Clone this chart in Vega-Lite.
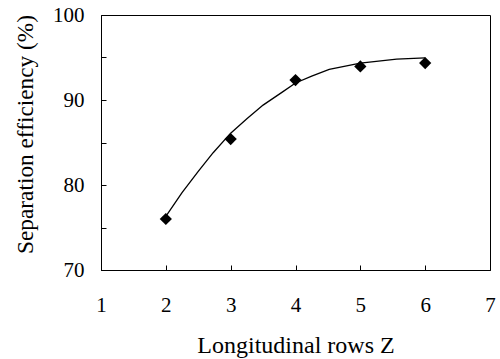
{
  "$schema": "https://vega.github.io/schema/vega-lite/v6.json",
  "autosize": "none",
  "width": 389,
  "height": 255,
  "padding": {"left": 101, "top": 15, "right": 10, "bottom": 89},
  "background": "white",
  "config": {
    "view": {"stroke": "black", "strokeWidth": 1},
    "font": "Liberation Serif, Times New Roman, serif",
    "axis": {
      "grid": false,
      "domainColor": "black",
      "tickColor": "black",
      "labelColor": "black",
      "titleColor": "black",
      "labelFont": "Liberation Serif, Times New Roman, serif",
      "titleFont": "Liberation Serif, Times New Roman, serif",
      "labelFontSize": 21,
      "titleFontSize": 24,
      "titleFontWeight": "normal"
    }
  },
  "datasets": {
    "points": [
      {"z": 2, "eff": 76.0},
      {"z": 3, "eff": 85.4},
      {"z": 4, "eff": 92.35},
      {"z": 5, "eff": 93.95},
      {"z": 6, "eff": 94.35}
    ],
    "curve": [
      {"z": 2.0, "eff": 76.3},
      {"z": 2.25, "eff": 79.1},
      {"z": 2.5, "eff": 81.6},
      {"z": 2.73, "eff": 83.8},
      {"z": 3.0, "eff": 86.1},
      {"z": 3.25, "eff": 87.8},
      {"z": 3.5, "eff": 89.4},
      {"z": 3.79, "eff": 90.9},
      {"z": 4.0, "eff": 92.0},
      {"z": 4.25, "eff": 92.8},
      {"z": 4.52, "eff": 93.6},
      {"z": 5.0, "eff": 94.35},
      {"z": 5.56, "eff": 94.8},
      {"z": 6.0, "eff": 94.95}
    ]
  },
  "layer": [
    {
      "data": {"name": "curve"},
      "mark": {"type": "line", "color": "black", "strokeWidth": 1.3},
      "encoding": {
        "x": {
          "field": "z", "type": "quantitative",
          "scale": {"domain": [1, 7], "nice": false, "zero": false},
          "axis": {
            "title": "Longitudinal rows Z",
            "values": [1, 2, 3, 4, 5, 6, 7],
            "format": "d",
            "tickSize": -5,
            "labelPadding": 29,
            "labelFlush": false,
            "titlePadding": 18
          }
        },
        "y": {
          "field": "eff", "type": "quantitative",
          "scale": {"domain": [70, 100], "nice": false, "zero": false},
          "axis": {
            "title": "Separation efficiency (%)",
            "titleFontSize": 23.3,
            "values": [70, 75, 80, 85, 90, 95, 100],
            "format": "d",
            "labelExpr": "datum.value % 10 == 0 ? datum.label : ''",
            "tickSize": -5,
            "labelPadding": 22,
            "labelFlush": false,
            "titleY": 119,
            "titleX": -69,
            "titleBaseline": "alphabetic"
          }
        }
      }
    },
    {
      "data": {"name": "points"},
      "mark": {"type": "point", "shape": "diamond", "filled": true, "color": "black", "size": 150, "opacity": 1},
      "encoding": {
        "x": {"field": "z", "type": "quantitative"},
        "y": {"field": "eff", "type": "quantitative"}
      }
    }
  ]
}
